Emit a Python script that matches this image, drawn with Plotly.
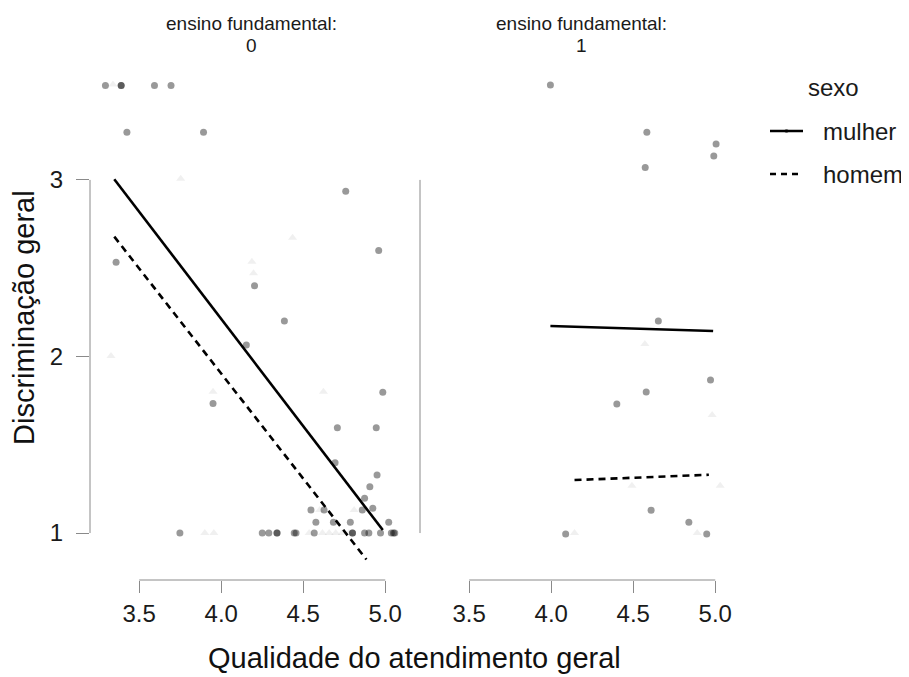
import plotly.graph_objects as go

# ---------------- data ----------------
# panel "ensino fundamental: 0"
mulher0_x = [3.294, 3.39, 3.39, 3.593, 3.694, 3.425, 3.892, 4.759, 4.96, 3.359, 4.203, 4.385,
             4.153, 3.95, 4.985, 4.708, 4.945, 4.694, 4.95, 4.906, 4.874, 4.86, 4.924, 4.547,
             4.627, 4.577, 4.684, 4.787, 5.021,
             3.748, 4.25, 4.29, 4.34, 4.34, 4.445, 4.456, 4.567, 4.80, 4.80, 4.874, 4.90,
             4.971, 5.037, 5.058, 5.05]
mulher0_y = [3.535, 3.535, 3.535, 3.535, 3.535, 3.27, 3.27, 2.936, 2.60, 2.534, 2.401, 2.201,
             2.065, 1.733, 1.797, 1.597, 1.597, 1.398, 1.329, 1.262, 1.197, 1.13, 1.14, 1.13,
             1.13, 1.061, 1.061, 1.061, 1.061,
             1.0, 1.0, 1.0, 1.0, 1.0, 1.0, 1.0, 1.0, 1.0, 1.0, 1.0, 1.0,
             1.0, 1.0, 1.0, 1.0]
homem0_x = [3.34, 3.753, 4.435, 4.187, 4.197, 3.328, 3.95, 4.623, 4.81, 4.60,
            3.9, 3.955, 4.536, 4.617, 4.658, 4.698, 4.738, 4.779]
homem0_y = [3.54, 3.007, 2.673, 2.537, 2.471, 2.003, 1.80, 1.80, 1.13, 1.13,
            1.0, 1.0, 1.0, 1.0, 1.0, 1.0, 1.0, 1.0]

# panel "ensino fundamental: 1"
mulher1_x = [3.995, 4.583, 5.005, 4.991, 4.573, 4.653, 4.971, 4.579, 4.40, 4.609, 4.839, 4.088, 4.948]
mulher1_y = [3.538, 3.27, 3.204, 3.136, 3.07, 2.201, 1.867, 1.799, 1.731, 1.129, 1.061, 0.994, 0.994]
homem1_x = [4.571, 4.981, 4.492, 5.03, 4.142, 4.89]
homem1_y = [2.071, 1.669, 1.268, 1.268, 1.0, 1.0]

# fitted lines (endpoints)
fit_mulher0_x = [3.348, 4.985]
fit_mulher0_y = [3.004, 1.017]
fit_homem0_x = [3.348, 4.885]
fit_homem0_y = [2.679, 0.85]
fit_mulher1_x = [3.995, 4.987]
fit_mulher1_y = [2.173, 2.144]
fit_homem1_x = [4.142, 4.961]
fit_homem1_y = [1.300, 1.330]

x_ticks = [3.5, 4.0, 4.5, 5.0]
x_ticktext = ["3.5", "4.0", "4.5", "5.0"]
y_ticks = [1, 2, 3]
panel_label = "ensino fundamental:"
panel_levels = ["0", "1"]
legend_labels = ["mulher", "homem"]

# ---------------- figure ----------------
FONT = "Liberation Sans, Arial, sans-serif"
AXIS_GREY = "#8a8a8a"
PT_COL = "rgba(0,0,0,0.40)"
TRI_COL = "rgba(0,0,0,0.06)"

fig = go.Figure()

def pts(x, y, xa, ya, tri=False):
    return go.Scatter(
        x=x, y=y, xaxis=xa, yaxis=ya, mode="markers", showlegend=False,
        hoverinfo="skip", cliponaxis=False,
        marker=dict(symbol="triangle-up" if tri else "circle",
                    size=8 if tri else 7,
                    color=TRI_COL if tri else PT_COL, line=dict(width=0)))

def fit(x, y, xa, ya, dashed=False):
    return go.Scatter(
        x=x, y=y, xaxis=xa, yaxis=ya, mode="lines", showlegend=False,
        hoverinfo="skip", cliponaxis=False,
        line=dict(color="black", width=2.6, dash="7px,5px" if dashed else "solid"))

fig.add_trace(pts(homem0_x, homem0_y, "x", "y", tri=True))
fig.add_trace(pts(mulher0_x, mulher0_y, "x", "y"))
fig.add_trace(pts(homem1_x, homem1_y, "x2", "y2", tri=True))
fig.add_trace(pts(mulher1_x, mulher1_y, "x2", "y2"))
fig.add_trace(fit(fit_mulher0_x, fit_mulher0_y, "x", "y"))
fig.add_trace(fit(fit_homem0_x, fit_homem0_y, "x", "y", dashed=True))
fig.add_trace(fit(fit_mulher1_x, fit_mulher1_y, "x2", "y2"))
fig.add_trace(fit(fit_homem1_x, fit_homem1_y, "x2", "y2", dashed=True))

XR = [3.2, 5.163]
YR = [0.734, 3.6]
tickfont = dict(family=FONT, size=24, color="#1a1a1a")

xcommon = dict(range=XR, tickvals=x_ticks, ticktext=x_ticktext, ticks="outside",
               ticklen=12, tickwidth=1, tickcolor=AXIS_GREY, showgrid=False,
               zeroline=False, showline=False, tickfont=tickfont, fixedrange=True)
ycommon = dict(range=YR, tickvals=y_ticks, showgrid=False, zeroline=False,
               showline=False, tickfont=tickfont, fixedrange=True)

# the page body has an 8px margin; plot area in screen pixels: x 90..742, y 74..580
OFF = 8
SX0, SX1, SY0, SY1 = 90, 742, 74, 580
plot_w = SX1 - SX0
plot_h = SY1 - SY0
W, H = 909 - OFF, 677 - OFF
L, T = SX0 - OFF, SY0 - OFF
R, B = W - L - plot_w, H - T - plot_h
left_end = 322 / plot_w
right_start = 330 / plot_w

fig.update_layout(
    width=W, height=H,
    margin=dict(l=L, r=R, t=T, b=B, pad=0),
    paper_bgcolor="white", plot_bgcolor="white",
    font=dict(family=FONT, color="#1a1a1a"),
    xaxis=dict(domain=[0, left_end], anchor="y", **xcommon),
    xaxis2=dict(domain=[right_start, 1], anchor="y2", **xcommon),
    yaxis=dict(domain=[0, 1], anchor="x", ticks="outside", ticklen=13, tickwidth=1,
               tickcolor=AXIS_GREY, ticklabelstandoff=8, **ycommon),
    yaxis2=dict(domain=[0, 1], anchor="x2", ticks="", showticklabels=False, **ycommon),
    showlegend=False,
)

def px_x(p):
    return (p - SX0) / plot_w

def px_y(p):
    return (SY1 - p) / plot_h

# axis lines (offset style)
line_style = dict(color=AXIS_GREY, width=1)
fig.add_shape(type="line", xref="x", yref="y domain", x0=3.5, x1=5.0, y0=0, y1=0, line=line_style)
fig.add_shape(type="line", xref="x2", yref="y2 domain", x0=3.5, x1=5.0, y0=0, y1=0, line=line_style)
fig.add_shape(type="line", xref="x domain", yref="y", x0=0, x1=0, y0=1, y1=3, line=line_style)
fig.add_shape(type="line", xref="x2 domain", yref="y2", x0=0, x1=0, y0=1, y1=3, line=line_style)

# panel strip titles
for i, lev in enumerate(panel_levels):
    xa = "x domain" if i == 0 else "x2 domain"
    fig.add_annotation(text=panel_label, xref=xa, yref="paper", x=0.5, y=px_y(24),
                       yanchor="middle", showarrow=False,
                       font=dict(family=FONT, size=19, color="#1a1a1a"))
    fig.add_annotation(text=lev, xref=xa, yref="paper", x=0.5, y=px_y(45),
                       yanchor="middle", showarrow=False,
                       font=dict(family=FONT, size=19, color="#1a1a1a"))

# axis titles
fig.add_annotation(text="Qualidade do atendimento geral", xref="paper", yref="paper",
                   x=px_x(414), y=px_y(658), yanchor="middle",
                   showarrow=False, font=dict(family=FONT, size=29, color="#111"))
fig.add_annotation(text="Discriminação geral", xref="paper", yref="paper",
                   x=px_x(24), y=px_y(318), xanchor="center",
                   yanchor="middle", textangle=-90, showarrow=False,
                   font=dict(family=FONT, size=29, color="#111"))

# legend (drawn manually)
fig.add_annotation(text="sexo", xref="paper", yref="paper", x=px_x(833), y=px_y(88),
                   xanchor="center", yanchor="middle", showarrow=False,
                   font=dict(family=FONT, size=24, color="#1a1a1a"))
for i, lab in enumerate(legend_labels):
    yy = [131, 174][i]
    fig.add_annotation(text=lab, xref="paper", yref="paper", x=px_x(821), y=px_y(yy),
                       xanchor="left", yanchor="middle", showarrow=False,
                       font=dict(family=FONT, size=24, color="#1a1a1a"))
    fig.add_shape(type="line", xref="paper", yref="paper", x0=px_x(770), x1=px_x(803),
                  y0=px_y(yy), y1=px_y(yy),
                  line=dict(color="black", width=2.6, dash="solid" if i == 0 else "6px,5px"))
fig.add_shape(type="circle", xref="paper", yref="paper",
              x0=px_x(784.5), x1=px_x(788.5), y0=px_y(129), y1=px_y(133),
              fillcolor="rgba(0,0,0,0.5)", line=dict(width=0))

fig.write_html("out.html")
